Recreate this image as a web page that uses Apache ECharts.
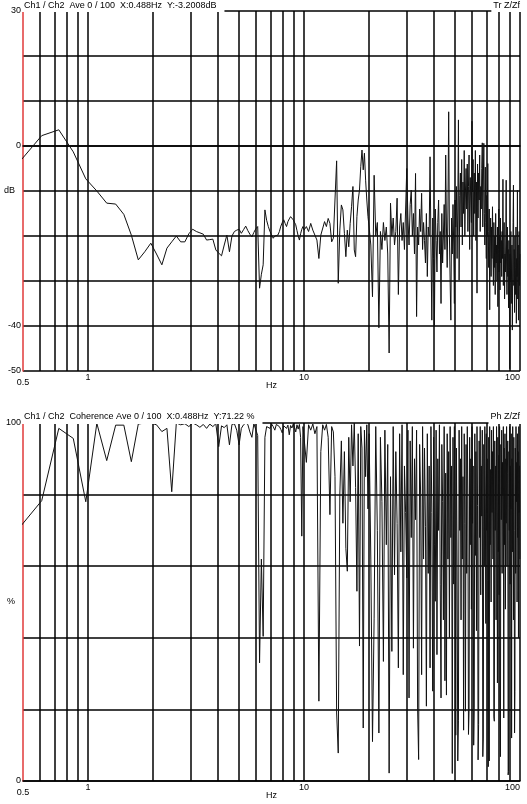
<!DOCTYPE html>
<html>
<head>
<meta charset="utf-8">
<script src="https://cdn.jsdelivr.net/npm/echarts@6/dist/echarts.min.js"></script>
<style>
html, body { margin: 0; background: #fff; }
#chart { width: 527px; height: 804px; }
</style>
</head>
<body>
<div id="chart"></div>
<script>
const FONT = '"Liberation Sans", Arial, sans-serif';
const LINE_HZ = 0.12207; // analyser line spacing in Hz

const verticalGridHz = [0.6, 0.7, 0.8, 0.9, 1, 2, 3, 4, 5, 6, 7, 8, 9, 10, 20, 30, 40, 50, 60, 70, 80, 90, 100];
const xTickLabels = ['0.5', '1', '10', '100'];
const dbTickLabels = [30, 0, -40, -50];
const cohTickLabels = [100, 0];

// Tr Z/Zf (dB) - lines 4..81, every line
const trLow = [
  -3.2, 2.3, 3.6, -1.3, -7.3, -10.0, -12.7, -12.9, -15.2, -19.8,
  -25.3, -23.5, -21.6, -24.0, -26.4, -22.7, -21.3, -20.0, -21.3, -21.3,
  -19.5, -18.5, -19.0, -19.3, -19.6, -20.9, -20.8, -20.7, -23.1, -23.8,
  -24.4, -22.0, -19.8, -23.5, -20.0, -19.0, -18.7, -18.5, -19.4, -18.6,
  -17.8, -18.8, -19.6, -20.2, -19.2, -18.4, -17.9, -31.6, -28.5, -26.4,
  -14.2, -16.5, -17.9, -19.0, -19.8, -20.5, -20.0, -19.6, -19.8, -19.0,
  -17.8, -17.0, -16.4, -17.2, -17.9, -16.8, -16.2, -15.7, -16.0, -16.4,
  -16.8, -17.5, -18.8, -20.0, -20.9, -19.5, -18.5, -17.9
];
// lines 82..162, every 2nd line
const trMid = [
  -18.7, -17.9, -19.0, -17.2, -18.7, -19.8, -20.9, -25.0, -19.8, -19.4,
  -16.8, -17.9, -16.1, -17.2, -21.3, -20.5, -20.2, -3.3, -30.5, -18.7,
  -13.1, -14.2, -19.4, -24.6, -18.7, -22.4, -17.2, -13.5, -9.0, -23.1,
  -24.6, -15.7, -12.0, -9.8, -4.6, -0.9, -5.3, -1.6, -7.6, -12.0,
  -15.7
];
// lines 164..818, every 3rd line
const trHigh = [
  -18, -22, -33.5, -6.5, -20, -17, -40.4, -19, -23, -17,
  -21, -18, -24, -46, -12.7, -20, -16, -22, -19, -11.6,
  -33, -18, -15, -21, -17, -23, -14, -5, -16, -22,
  -13, -9.8, -20, -15, -24, -6.1, -37.9, -18, -22, -14,
  -19, -10.5, -23, -17, -21, -26, -15, -29, -18, -20,
  -2.4, -22, -38.7, -16, -25, -39.8, -14, -21, -28, -17,
  -12, -24, -19, -35, -15, -26, -20, -13, -23, -2,
  -18, -27, -14, 7.6, -20, -30, -38.7, -16, -24, -13,
  -22, -35, -12, -18, -9, -25, -14, 5.8, -29.8, -11,
  -6, -18, -3, -22, -8, -15, -1, -20, -10, -5,
  -14, -4, -19, -9, -2, -23, -7, -12, -17, 5.5,
  -10, -3, -20, -6, -15, -1, -21, -8, -32.7, -4,
  -16, -6, -12, -2, -19, -9, -14, -5, 0.7, -18,
  -8, 0.6, -15, -22, -4.7, -17, -25, -11, -20, -3.9,
  -19, -27, -14, -36.4, -22, -16, -29, -18, -25, -13.5,
  -24, -31, -17, -27, -20, -33, -15, -26, -22, -30,
  -18, -35.7, -23, -14, -28, -20, -32, -16, -26, -21,
  -29, -19, -25, -7.4, -31, -22, -17, -34, -24, -28,
  -20, -7.6, -26, -33, -18, -29, -23, -36, -21, -27,
  -49.5, -24, -30, -19, -35, -26, -22, -40.9, -28, -17,
  -8.7, -31, -23, -37, -20, -27, -33, -18, -39.4, -25,
  -29, -9.8, -34, -22, -38.7, -26, -19, -31, -24
];

// Coherence (%) - same lines as above
const cohLow = [
  71.2, 78.3, 98.5, 95.7, 78.0, 99.9, 89.5, 99.4, 99.4, 89.2,
  99.7, 100, 100, 99.5, 97.6, 98.5, 80.8, 100, 99.5, 99.8,
  99.0, 100, 99.5, 98.8, 99.6, 98.5, 99.7, 99.0, 99.8, 93.4,
  99.2, 98.7, 99.5, 93.9, 99.6, 99.8, 98.0, 93.9, 98.5, 99.5,
  100, 99.6, 97.5, 96.0, 99.8, 99.7, 96.5, 33.0, 62.0, 40.4,
  96.0, 99.0, 99.5, 98.5, 99.7, 99.0, 98.0, 99.6, 99.8, 99.0,
  98.2, 97.2, 99.2, 99.7, 98.5, 99.4, 96.7, 99.3, 98.6, 99.7,
  98.8, 97.5, 99.5, 98.3, 99.6, 96.0, 68.4, 99.0
];
const cohMid = [
  99, 89, 99.5, 98, 99.7, 97, 99, 22.3, 92, 99.5,
  98, 99.6, 96, 74.4, 99, 97.5, 85, 19, 7.8, 80,
  95, 72, 92, 65, 58.6, 96, 78, 99.5, 88, 100,
  82, 53, 97, 37.7, 99, 93, 14.8, 98, 85, 99.5,
  76
];
const cohHigh = [
  97, 62, 11, 45.5, 99, 70, 13.4, 96, 78, 33.4,
  98, 66, 94, 2.2, 85, 36.2, 99, 57.6, 92, 72,
  31.6, 97, 64, 99.5, 29.7, 88, 75, 56.7, 98, 23.2,
  95, 68, 99, 37.1, 90, 73, 98, 20.4, 6, 94,
  80, 29.7, 99, 62, 93, 71, 20.9, 97, 58, 88,
  31.6, 99, 75, 25.1, 96, 66, 50.2, 98, 35.3, 90,
  70, 99.5, 55, 23.2, 94, 78, 45, 99, 28, 86,
  24, 97, 62, 92, 40, 99, 68, 88, 2.1, 96,
  55, 99, 74, 12.8, 93, 60, 5.6, 17, 98, 70,
  90, 45, 99, 62, 85, 14.2, 97, 72, 19.5, 94,
  58, 99, 80, 13, 19.8, 96, 66, 90, 48, 99,
  72, 88, 10, 20.4, 97, 63, 92, 42, 99, 77,
  5.9, 15.8, 95, 68, 99, 52, 88, 74, 98, 6.8,
  12, 94, 60, 99, 80, 44, 97, 70, 90, 56,
  4, 96, 5.6, 99, 66, 87, 50, 98, 75, 92,
  62, 99, 17.9, 16.7, 95, 70, 88, 45, 99, 78,
  27.4, 96, 64, 91, 52, 99, 23.2, 6.8, 94, 73,
  98, 58, 89, 80, 99, 17.6, 93, 66, 97, 48,
  90, 72, 99, 60, 86, 95, 1.7, 2.7, 92, 70,
  99, 55, 88, 76, 97, 12, 90, 64, 99, 81,
  45, 96, 70, 13.4, 25, 93, 58, 99, 78, 89,
  50, 97, 68, 92, 40, 99, 75, 88, 62
];

// [first line, line step, values] -> [Hz, value]
function spectrum(parts) {
  const out = [];
  parts.forEach(([first, step, values]) => {
    values.forEach((v, i) => out.push([(first + i * step) * LINE_HZ, v]));
  });
  return out;
}
const trData = spectrum([[4, 1, trLow], [82, 2, trMid], [164, 3, trHigh]]);
const cohData = spectrum([[4, 1, cohLow], [82, 2, cohMid], [164, 3, cohHigh]]);

const txt = { fontSize: 9, color: '#000', fontFamily: FONT };
const GRID_W = 1.5;

function freqAxis(gridIndex) {
  return {
    type: 'log', logBase: 10, gridIndex: gridIndex, min: 0.5, max: 100,
    name: 'Hz', nameLocation: 'middle', nameGap: 10, nameMoveOverlap: false, nameTextStyle: txt,
    axisLine: { show: true, lineStyle: { color: '#000', width: GRID_W } },
    axisTick: { show: false },
    splitLine: { show: false },
    axisLabel: Object.assign({}, txt, {
      margin: 2,
      alignMaxLabel: 'right',
      formatter: function (v) {
        const s = String(Math.round(v * 1000) / 1000);
        if (s === '0.5') return '{low|0.5}';
        return xTickLabels.indexOf(s) >= 0 ? s : '';
      },
      rich: { low: { padding: [5, 0, 0, 0], fontSize: 9, color: '#000', fontFamily: FONT } }
    })
  };
}

function levelAxis(gridIndex, min, max, step, name, shown) {
  return {
    type: 'value', gridIndex: gridIndex, min: min, max: max, interval: step,
    name: name, nameLocation: 'middle', nameGap: 8, nameRotate: 0, nameMoveOverlap: false,
    nameTextStyle: txt,
    axisLine: { show: true, lineStyle: { color: '#e03a3a', width: GRID_W } },
    axisTick: { show: false },
    splitLine: { show: true, lineStyle: { color: '#000', width: GRID_W } },
    axisLabel: Object.assign({}, txt, {
      margin: 2,
      formatter: v => shown.indexOf(v) >= 0 ? String(v) : ''
    })
  };
}

// line grid drawn through the log x axis
function verticalGrid(idx) {
  return {
    type: 'custom', xAxisIndex: idx, yAxisIndex: idx, silent: true, z: 1,
    data: verticalGridHz.map(v => [v, 0]),
    encode: { x: 0, y: 1 },
    clip: false,
    renderItem: function (params, api) {
      const cs = params.coordSys;
      const x = Math.round(api.coord([api.value(0), api.value(1)])[0]);
      return {
        type: 'line',
        shape: { x1: x, y1: cs.y, x2: x, y2: cs.y + cs.height },
        style: { stroke: '#000', lineWidth: GRID_W }
      };
    }
  };
}

function trace(idx, data) {
  return {
    type: 'line', xAxisIndex: idx, yAxisIndex: idx, data: data,
    symbol: 'none', showSymbol: false, clip: true, z: 3,
    lineStyle: { color: '#111', width: 1 }
  };
}

function head(text, pos, top, padding) {
  return Object.assign({
    text: text, top: top, padding: padding, backgroundColor: '#fff',
    textStyle: Object.assign({}, txt, { fontWeight: 'normal', lineHeight: 10 })
  }, pos);
}

const chart = echarts.init(document.getElementById('chart'));
chart.setOption({
  animation: false,
  backgroundColor: '#fff',
  title: [
    head('Ch1 / Ch2  Ave 0 / 100  X:0.488Hz  Y:-3.2008dB', { left: 22 }, 0, [1, 8, 1, 2]),
    head('Tr Z/Zf', { right: 6 }, 0, [1, 1, 1, 2]),
    head('Ch1 / Ch2  Coherence Ave 0 / 100  X:0.488Hz  Y:71.22 %', { left: 22 }, 411, [1, 8, 2, 2]),
    head('Ph Z/Zf', { right: 6 }, 411, [1, 1, 2, 2])
  ],
  grid: [
    { left: 23, top: 11, width: 497, height: 360, containLabel: false, outerBoundsMode: 'none' },
    { left: 23, top: 423, width: 497, height: 358, containLabel: false, outerBoundsMode: 'none' }
  ],
  xAxis: [freqAxis(0), freqAxis(1)],
  yAxis: [
    levelAxis(0, -50, 30, 10, 'dB', dbTickLabels),
    levelAxis(1, 0, 100, 20, '%', cohTickLabels)
  ],
  series: [
    verticalGrid(0),
    verticalGrid(1),
    trace(0, trData),
    trace(1, cohData)
  ]
});
</script>
</body>
</html>
